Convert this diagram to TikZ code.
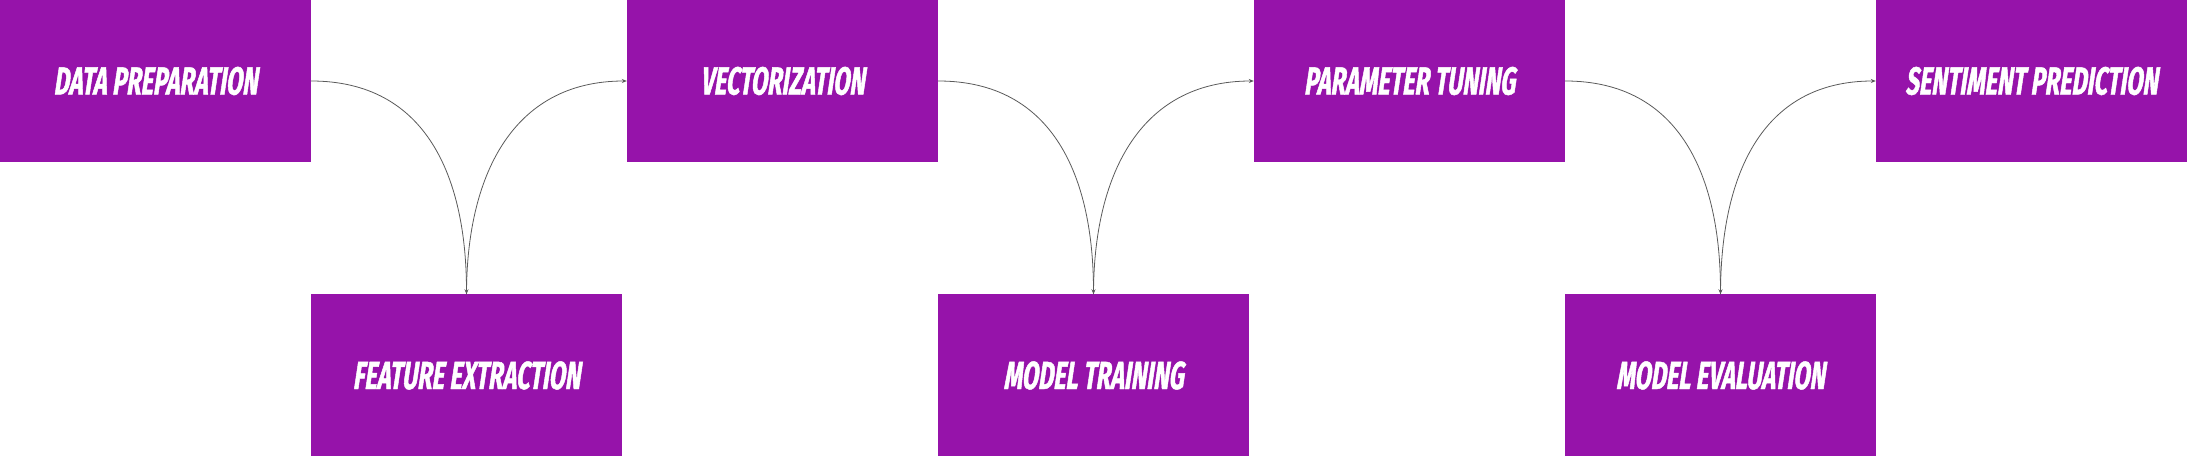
\documentclass[tikz,border=0pt]{standalone}
\usepackage{fontspec}
\newfontfamily\boxfont[FakeStretch=0.6,FakeSlant=0.15,FakeBold=1.2]{Fira Sans}
\usetikzlibrary{arrows.meta}
\definecolor{boxpurple}{HTML}{9613AA}
\definecolor{linegray}{HTML}{5A5A5A}
\tikzset{
  stepbox/.style={rectangle, fill=boxpurple, draw=none, inner sep=0pt,
    minimum width=311pt, minimum height=162pt, text=white,
    font=\boxfont\bfseries\fontsize{39}{43}\selectfont},
  conn/.style={draw=linegray, line width=0.8pt,
    -{Stealth[length=5pt,width=4pt]}}
}
\begin{document}
\begin{tikzpicture}[x=1pt,y=1pt]
\useasboundingbox (0,0) rectangle (2187,457);
\node[stepbox] (dp) at (155.5,376) {DATA PREPARATION};
\node[stepbox] (fe) at (466.5,81.5) {FEATURE EXTRACTION};
\node[stepbox] (ve) at (782.5,376) {VECTORIZATION};
\node[stepbox] (mt) at (1093.5,81.5) {MODEL TRAINING};
\node[stepbox] (pt) at (1409.5,376) {PARAMETER TUNING};
\node[stepbox] (me) at (1720.5,81.5) {MODEL EVALUATION};
\node[stepbox] (sp) at (2031.5,376) {SENTIMENT PREDICTION};
\draw[conn] (dp.east) .. controls +(116,0) and +(0,116) .. (fe.north);
\draw[conn] (fe.north) .. controls +(0,116) and +(-116,0) .. (ve.west);
\draw[conn] (ve.east) .. controls +(116,0) and +(0,116) .. (mt.north);
\draw[conn] (mt.north) .. controls +(0,116) and +(-116,0) .. (pt.west);
\draw[conn] (pt.east) .. controls +(116,0) and +(0,116) .. (me.north);
\draw[conn] (me.north) .. controls +(0,116) and +(-116,0) .. (sp.west);
\end{tikzpicture}
\end{document}
